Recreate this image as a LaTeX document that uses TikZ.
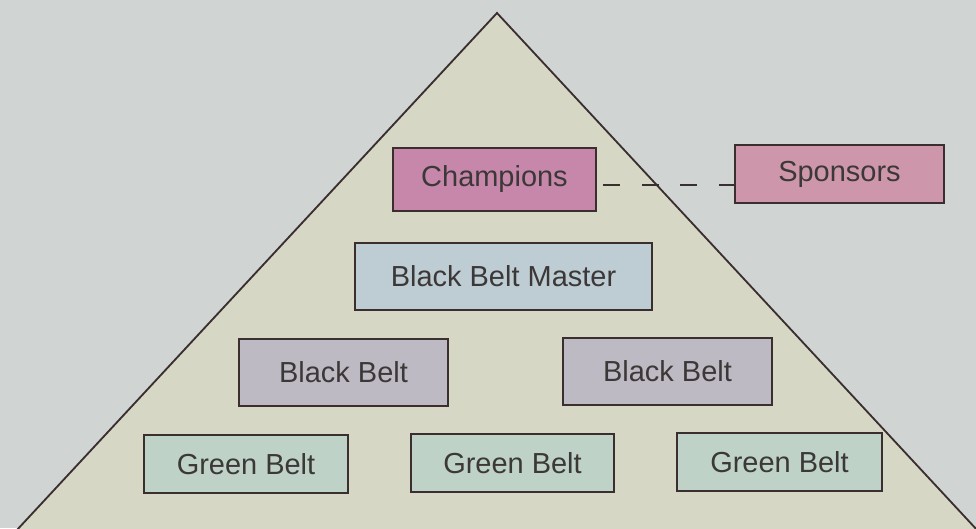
\documentclass[tikz,border=0pt]{standalone}
\usepackage{fontspec}
\setmainfont{Liberation Sans}

\definecolor{paper}{HTML}{D0D4D2}
\definecolor{pyramid}{HTML}{D7D7C6}
\definecolor{edge}{HTML}{3A2E2E}
\definecolor{ink}{HTML}{3C3838}
\definecolor{champfill}{HTML}{C787AA}
\definecolor{sponsfill}{HTML}{CE96AA}
\definecolor{masterfill}{HTML}{BECDD4}
\definecolor{blackfill}{HTML}{BEBAC4}
\definecolor{greenfill}{HTML}{BED2C8}

\begin{document}
\begin{tikzpicture}[x=0.025cm,y=-0.025cm,
		belt/.style={draw=edge,line width=1.5pt,text=ink,inner sep=0pt,
			minimum width=5.1cm,minimum height=1.45cm,
			font=\fontsize{20.6}{24}\selectfont},
		green belt/.style={belt,fill=greenfill},
		black belt/.style={belt,fill=blackfill,minimum width=5.225cm,minimum height=1.675cm},
	]
		\useasboundingbox (0,0) rectangle (976,528);
		\fill[paper] (0,0) rectangle (976,528);
		\clip (0,0) rectangle (976,528);
		
		% the pyramid
		\draw[edge,line width=1.3pt,fill=pyramid,line join=miter] (497,13) -- (3,545) -- (991,545) -- cycle;
		
		\node[belt,fill=champfill,minimum width=5.075cm,minimum height=1.575cm] (champ) at (494.5,179.5) {Champions};
		\node[belt,fill=sponsfill,minimum width=5.225cm] (spons) at (839.5,174) {Sponsors};
		
		\node[belt,fill=masterfill,minimum width=7.425cm,minimum height=1.675cm] (master) at (503.5,276.5) {Black Belt Master};
		
		\node[black belt] (bbl) at (343.5,372.5) {Black Belt};
		\node[black belt] (bbr) at (667.5,371.5) {Black Belt};
		
		\node[green belt] (gbl) at (246,464) {Green Belt};
		\node[green belt,minimum width=5.075cm] (gbm) at (512.5,463) {Green Belt};
		\node[green belt,minimum width=5.125cm] (gbr) at (779.5,462) {Green Belt};
		
		\draw[edge,line width=1.3pt,dash pattern=on 12pt off 15.5pt,dash phase=23.2pt] (champ.-3) -- (champ.-3 -| spons.west);
	\end{tikzpicture}
\end{document}
